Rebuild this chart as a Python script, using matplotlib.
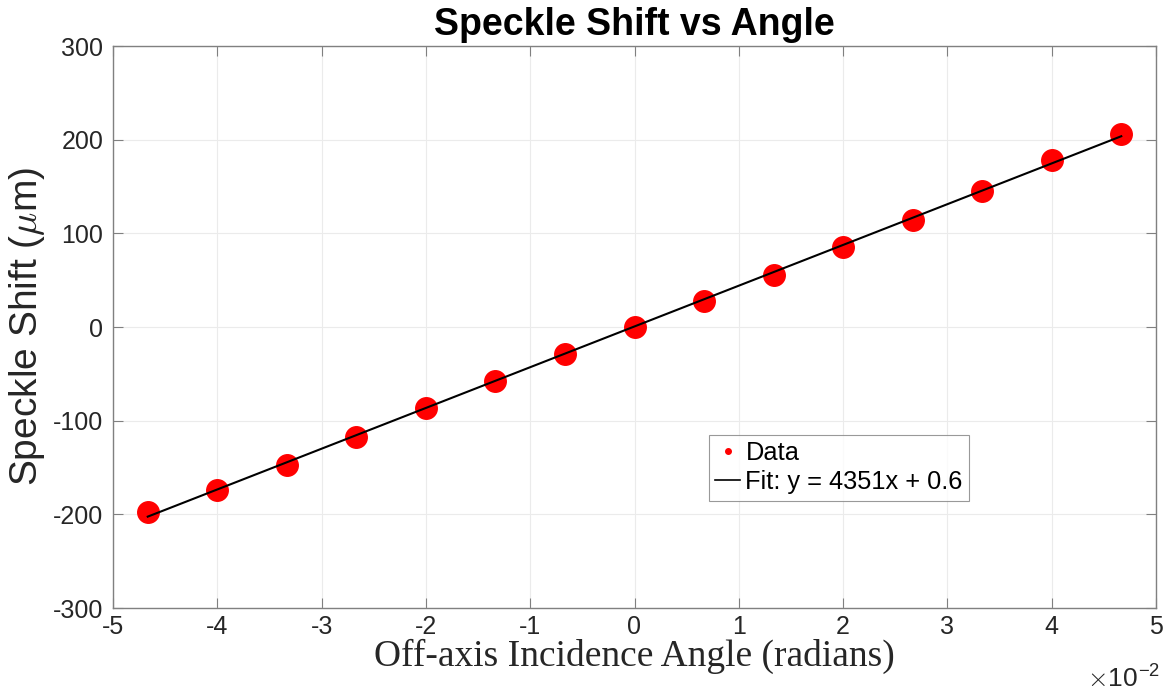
import numpy as np
import matplotlib
matplotlib.use('Agg')
import matplotlib.pyplot as plt
from matplotlib.lines import Line2D

# measured angles (units of 1e-2 rad) and speckle shift (um)
angle_e2 = [-4.667, -4.0, -3.333, -2.667, -2.0, -1.333, -0.667, 0.0,
            0.667, 1.333, 2.0, 2.667, 3.333, 4.0, 4.667]
shift_um = [-197, -174, -147, -117, -86, -58, -29, 0,
            28, 55, 85, 114, 145, 178, 206]
fit_slope = 4351
fit_offset = 0.6

x = np.array(angle_e2) * 1e-2
y = np.array(shift_um)
yfit = fit_slope * x + fit_offset

plt.rcParams['font.family'] = ['Liberation Sans', 'DejaVu Sans']
plt.rcParams['mathtext.fontset'] = 'cm'
plt.rcParams['axes.unicode_minus'] = False

fig = plt.figure(figsize=(11.73, 6.98), dpi=100)
ax = fig.add_axes([113/1173, 1 - 608/698, (1156-113)/1173, (608-46)/698])

ax.plot(x * 100, y, 'o', color='red', markersize=15.5, zorder=3)
ax.plot(x * 100, yfit, '-', color='black', linewidth=1.5, zorder=4)

ax.set_xlim(-5, 5)
ax.set_ylim(-300, 300)
ax.set_xticks(np.arange(-5, 6, 1))
ax.set_yticks(np.arange(-300, 301, 100))
ax.grid(True, color='#ebebeb', linewidth=0.8)
ax.set_axisbelow(True)
ax.tick_params(direction='in', length=7, width=0.8, color='#808080',
               labelcolor='#262626', labelsize=18, top=True, right=True, pad=5)
ax.tick_params(axis='y', pad=7)
for s in ax.spines.values():
    s.set_color('#808080')
    s.set_linewidth(1.0)

ax.set_title('Speckle Shift vs Angle', fontsize=27, fontweight='bold', pad=8)
ax.set_xlabel('Off-axis Incidence Angle (radians)', fontsize=27,
              family='Liberation Serif', color='#262626', labelpad=0)
ax.set_ylabel(r'Speckle Shift ($\mu$m)', fontsize=28, color='#262626', labelpad=4)
fig.text(1160/1173, 1 - 664/698, r'$\times$10$^{\mathregular{-2}}$', fontsize=19,
         ha='right', va='top', color='#262626')

handles = [Line2D([], [], marker='.', color='red', linestyle='none', markersize=8),
           Line2D([], [], color='black', linewidth=1.2)]
labels = ['Data', 'Fit: y = %dx + %.1f' % (fit_slope, fit_offset)]
leg = ax.legend(handles, labels, loc='upper left', bbox_to_anchor=(0.571, 0.308),
                fontsize=18.3, frameon=True, fancybox=False, edgecolor='#808080',
                handlelength=1.0, handletextpad=0.2, borderpad=0.25,
                labelspacing=0.2, borderaxespad=0)
leg.get_frame().set_linewidth(0.8)

fig.savefig('out.png', dpi=100)
